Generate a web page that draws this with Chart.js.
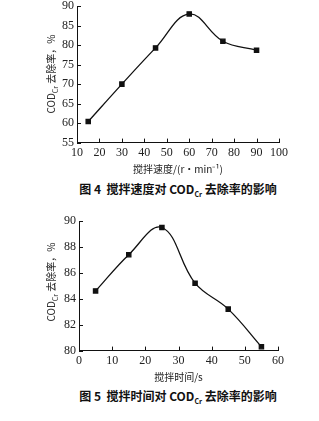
<!DOCTYPE html>
<html>
<head>
<meta charset="utf-8">
<script src="https://cdn.jsdelivr.net/npm/chart.js@4"></script>
<style>
  body { margin: 0; background: #fff; }
  #wrap { position: relative; width: 319px; height: 421px; overflow: hidden; }
  canvas { position: absolute; left: 0; }
  .ytitle {
    position: absolute; width: 120px; height: 12px; line-height: 12px; text-align: center;
    font: 10px "Noto Sans CJK SC", sans-serif; color: #222;
    transform: rotate(-90deg); white-space: nowrap;
  }
  .caption {
    position: absolute; left: 0; width: 356px; text-align: center;
    font: bold 12px "Noto Sans CJK SC", sans-serif; color: #111; white-space: nowrap;
  }
  sub { font-size: 7px; }
</style>
</head>
<body>
<div id="wrap">
  <canvas id="chart4" width="319" height="183" style="top:-4px"></canvas>
  <div class="ytitle" style="left:-11px; top:68px">COD<sub>Cr</sub> 去除率，%</div>
  <div class="caption" style="top:180px">图 4&nbsp; 搅拌速度对 COD<sub>Cr</sub> 去除率的影响</div>

  <canvas id="chart5" width="319" height="187" style="top:200px"></canvas>
  <div class="ytitle" style="left:-11px; top:276px">COD<sub>Cr</sub> 去除率，%</div>
  <div class="caption" style="top:387px">图 5&nbsp; 搅拌时间对 COD<sub>Cr</sub> 去除率的影响</div>
</div>
<script>
// Fig 4: stirring speed vs removal rate
const speed = [15, 30, 45, 60, 75, 90];
const speedRemoval = [60.4, 70.0, 79.3, 88.0, 81.0, 78.7];
const speedTicks = [10, 100, 10];   // min, max, step
const speedRemovalTicks = [55, 90, 5];

// Fig 5: stirring time vs removal rate
const time = [5, 15, 25, 35, 45, 55];
const timeRemoval = [84.6, 87.4, 89.5, 85.2, 83.2, 80.3];
const timeTicks = [0, 60, 10];
const timeRemovalTicks = [80, 90, 2];

const serif = 'Liberation Serif';

// small inward tick marks on both axes
const inwardTicks = {
    id: 'inwardTicks',
    afterDraw(chart) {
        const c = chart.ctx, a = chart.chartArea;
        c.save();
        c.strokeStyle = '#111';
        c.lineWidth = 1;
        c.beginPath();
        chart.scales.x.ticks.forEach(t => {
            const px = Math.round(chart.scales.x.getPixelForValue(t.value)) + 0.5;
            c.moveTo(px, a.bottom);
            c.lineTo(px, a.bottom - 4);
        });
        chart.scales.y.ticks.forEach(t => {
            const py = Math.round(chart.scales.y.getPixelForValue(t.value)) + 0.5;
            c.moveTo(a.left, py);
            c.lineTo(a.left + 4, py);
        });
        c.stroke();
        c.restore();
    }
};

function makeChart(id, xs, ys, xr, yr, xTitle, pad) {
    const pts = xs.map((x, i) => ({ x: x, y: ys[i] }));
    return new Chart(document.getElementById(id).getContext('2d'), {
        type: 'line',
        data: {
            datasets: [{
                data: pts,
                borderColor: '#111',
                borderWidth: 1.3,
                backgroundColor: '#111',
                pointStyle: 'rect',
                pointRadius: 3,
                tension: 0.4
            }]
        },
        options: {
            responsive: false,
            animation: false,
            layout: { padding: pad },
            plugins: { legend: { display: false }, tooltip: { enabled: false } },
            scales: {
                x: {
                    type: 'linear',
                    min: xr[0], max: xr[1],
                    grid: { display: false, drawTicks: false, tickLength: 0 },
                    border: { display: true, color: '#111', width: 1 },
                    ticks: { stepSize: xr[2], color: '#222', padding: 3,
                             autoSkip: false, maxRotation: 0, minRotation: 0,
                             font: { family: serif, size: 12 } },
                    title: { display: true, text: xTitle, color: '#222',
                             padding: { top: 0, bottom: 0 },
                             font: { family: 'Noto Sans CJK SC', size: 10 } }
                },
                y: {
                    min: yr[0], max: yr[1],
                    grid: { display: false, drawTicks: false, tickLength: 0 },
                    border: { display: true, color: '#111', width: 1 },
                    ticks: { stepSize: yr[2], color: '#222', padding: 3,
                             autoSkip: false,
                             font: { family: serif, size: 12 } }
                }
            }
        },
        plugins: [inwardTicks]
    });
}

makeChart('chart4', speed, speedRemoval, speedTicks, speedRemovalTicks,
          '搅拌速度/(r·min⁻¹)', { left: 59, right: 40, top: 0, bottom: 4 });
makeChart('chart5', time, timeRemoval, timeTicks, timeRemovalTicks,
          '搅拌时间/s', { left: 61, right: 41, top: 21, bottom: 4 });
</script>
</body>
</html>
